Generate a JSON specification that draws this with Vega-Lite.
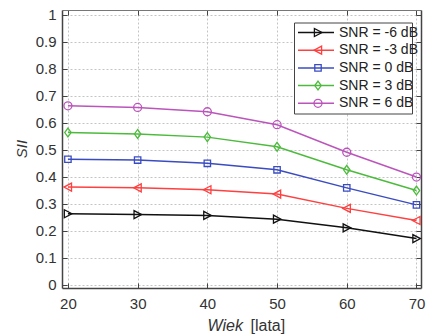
{
  "$schema": "https://vega.github.io/schema/vega-lite/v6.json",
  "width": 359,
  "height": 278,
  "autosize": {"type": "none"},
  "padding": {"left": 62, "top": 10, "right": 6, "bottom": 48},
  "background": "white",
  "config": {
    "view": {"stroke": null},
    "font": "Liberation Sans",
    "axis": {
      "domainColor": "#444444",
      "domainWidth": 1.5,
      "tickColor": "#444444",
      "tickSize": -5,
      "tickWidth": 1,
      "labelFont": "Liberation Sans",
      "labelFontSize": 15,
      "labelColor": "#333333",
      "titleFont": "Liberation Sans",
      "titleColor": "#333333",
      "titleFontWeight": "normal",
      "gridColor": "#c4c4c4",
      "gridDash": [2, 2],
      "gridWidth": 1
    }
  },
  "data": {
    "values": [
      {"series": "SNR = -6 dB", "age": 20, "sii": 0.263},
      {"series": "SNR = -6 dB", "age": 30, "sii": 0.260},
      {"series": "SNR = -6 dB", "age": 40, "sii": 0.257},
      {"series": "SNR = -6 dB", "age": 50, "sii": 0.243},
      {"series": "SNR = -6 dB", "age": 60, "sii": 0.211},
      {"series": "SNR = -6 dB", "age": 70, "sii": 0.171},
      {"series": "SNR = -3 dB", "age": 20, "sii": 0.362},
      {"series": "SNR = -3 dB", "age": 30, "sii": 0.359},
      {"series": "SNR = -3 dB", "age": 40, "sii": 0.352},
      {"series": "SNR = -3 dB", "age": 50, "sii": 0.336},
      {"series": "SNR = -3 dB", "age": 60, "sii": 0.283},
      {"series": "SNR = -3 dB", "age": 70, "sii": 0.238},
      {"series": "SNR = 0 dB", "age": 20, "sii": 0.465},
      {"series": "SNR = 0 dB", "age": 30, "sii": 0.462},
      {"series": "SNR = 0 dB", "age": 40, "sii": 0.450},
      {"series": "SNR = 0 dB", "age": 50, "sii": 0.426},
      {"series": "SNR = 0 dB", "age": 60, "sii": 0.359},
      {"series": "SNR = 0 dB", "age": 70, "sii": 0.296},
      {"series": "SNR = 3 dB", "age": 20, "sii": 0.564},
      {"series": "SNR = 3 dB", "age": 30, "sii": 0.559},
      {"series": "SNR = 3 dB", "age": 40, "sii": 0.547},
      {"series": "SNR = 3 dB", "age": 50, "sii": 0.511},
      {"series": "SNR = 3 dB", "age": 60, "sii": 0.426},
      {"series": "SNR = 3 dB", "age": 70, "sii": 0.349},
      {"series": "SNR = 6 dB", "age": 20, "sii": 0.663},
      {"series": "SNR = 6 dB", "age": 30, "sii": 0.657},
      {"series": "SNR = 6 dB", "age": 40, "sii": 0.641},
      {"series": "SNR = 6 dB", "age": 50, "sii": 0.593},
      {"series": "SNR = 6 dB", "age": 60, "sii": 0.491},
      {"series": "SNR = 6 dB", "age": 70, "sii": 0.399}
    ]
  },
  "layer": [
    {
      "mark": {"type": "line", "strokeWidth": 1.5},
      "encoding": {
        "x": {
          "field": "age", "type": "quantitative",
          "scale": {"domain": [19.15, 70.65], "nice": false, "zero": false},
          "axis": {
            "orient": "bottom",
            "values": [20, 30, 40, 50, 60, 70],
            "grid": true,
            "labelPadding": 13,
            "title": "Wiek",
            "titleFontSize": 16,
            "titleFontStyle": "italic",
            "titleAlign": "left",
            "titleBaseline": "middle",
            "titleX": 145,
            "titleY": 37
          }
        },
        "y": {
          "field": "sii", "type": "quantitative",
          "scale": {"domain": [-0.012, 1.018], "nice": false, "zero": false},
          "axis": {
            "orient": "left",
            "values": [0, 0.1, 0.2, 0.3, 0.4, 0.5, 0.6, 0.7, 0.8, 0.9, 1],
            "format": ".1~f",
            "grid": true,
            "labelPadding": 11,
            "title": "SII",
            "titleFontSize": 15,
            "titleFontStyle": "italic",
            "titleAlign": "center",
            "titleBaseline": "middle",
            "titleX": -41,
            "titleY": 138.5
          }
        },
        "stroke": {
          "field": "series", "type": "nominal",
          "sort": ["SNR = -6 dB", "SNR = -3 dB", "SNR = 0 dB", "SNR = 3 dB", "SNR = 6 dB"],
          "scale": {"range": ["#111111", "#ff4040", "#3a4cc0", "#4cbb3c", "#bb55bb"]},
          "legend": {
            "title": null,
            "orient": "none",
            "legendX": 232,
            "legendY": 12.5,
            "padding": 3,
            "fillColor": "white",
            "strokeColor": "#444444",
            "symbolType": "stroke",
            "symbolSize": 1296,
            "symbolStrokeWidth": 1.5,
            "symbolOffset": 0,
            "clipHeight": 14,
            "labelExpr": "' '",
            "labelOffset": 74,
            "labelOpacity": 0,
            "labelFontSize": 14,
            "labelFont": "Liberation Sans",
            "rowPadding": 3.7
          }
        }
      }
    },
    {
      "mark": {"type": "point", "filled": false, "size": 64, "strokeWidth": 1.3, "opacity": 1},
      "encoding": {
        "x": {
          "field": "age", "type": "quantitative",
          "scale": {"domain": [19.15, 70.65], "nice": false, "zero": false},
          "axis": {
            "orient": "bottom",
            "domain": false,
            "ticks": false,
            "labels": false,
            "grid": false,
            "title": "[lata]",
            "titleFontSize": 16,
            "titleFontStyle": "normal",
            "titleAlign": "left",
            "titleBaseline": "middle",
            "titleX": 188,
            "titleY": 37
          }
        },
        "y": {
          "field": "sii", "type": "quantitative",
          "scale": {"domain": [-0.012, 1.018], "nice": false, "zero": false},
          "axis": null
        },
        "color": {
          "field": "series", "type": "nominal",
          "scale": {
            "domain": ["SNR = -6 dB", "SNR = -3 dB", "SNR = 0 dB", "SNR = 3 dB", "SNR = 6 dB"],
            "range": ["#111111", "#ff4040", "#3a4cc0", "#4cbb3c", "#bb55bb"]
          },
          "legend": {
            "title": null,
            "orient": "none",
            "legendX": 232,
            "legendY": -1.5,
            "padding": 17,
            "fillColor": "transparent",
            "strokeColor": "transparent",
            "symbolSize": 64,
            "symbolStrokeWidth": 1.3,
            "symbolOffset": 0,
            "clipHeight": 14,
            "labelOffset": 14,
            "labelFontSize": 14,
            "labelColor": "#222222",
            "labelFont": "Liberation Sans",
            "rowPadding": 3.7
          }
        },
        "shape": {
          "field": "series", "type": "nominal",
          "scale": {
            "domain": ["SNR = -6 dB", "SNR = -3 dB", "SNR = 0 dB", "SNR = 3 dB", "SNR = 6 dB"],
            "range": [
              "M-0.9,-1L1,0L-0.9,1Z",
              "M0.9,-1L-1,0L0.9,1Z",
              "M-0.8,-0.8H0.8V0.8H-0.8Z",
              "M0,-1.1L0.8,0L0,1.1L-0.8,0Z",
              "M1,0A1,1,0,1,1,-1,0A1,1,0,1,1,1,0Z"
            ]
          },
          "legend": {
            "title": null,
            "orient": "none",
            "legendX": 232,
            "legendY": -1.5,
            "padding": 17,
            "fillColor": "transparent",
            "strokeColor": "transparent",
            "symbolSize": 64,
            "symbolStrokeWidth": 1.3,
            "symbolOffset": 0,
            "clipHeight": 14,
            "labelOffset": 14,
            "labelFontSize": 14,
            "labelColor": "#222222",
            "labelFont": "Liberation Sans",
            "rowPadding": 3.7
          }
        }
      }
    },
    {
      "mark": {"type": "point", "opacity": 0},
      "encoding": {
        "x": {
          "field": "age", "type": "quantitative",
          "scale": {"domain": [19.15, 70.65], "nice": false, "zero": false},
          "axis": {
            "orient": "top",
            "values": [20, 30, 40, 50, 60, 70],
            "labels": false,
            "grid": false,
            "title": null,
            "domainColor": "#777777",
            "domainWidth": 1
          }
        },
        "y": {
          "field": "sii", "type": "quantitative",
          "scale": {"domain": [-0.012, 1.018], "nice": false, "zero": false},
          "axis": {
            "orient": "right",
            "values": [0, 0.1, 0.2, 0.3, 0.4, 0.5, 0.6, 0.7, 0.8, 0.9, 1],
            "labels": false,
            "grid": false,
            "title": null
          }
        }
      }
    }
  ],
  "resolve": {"axis": {"x": "independent", "y": "independent"}}
}
